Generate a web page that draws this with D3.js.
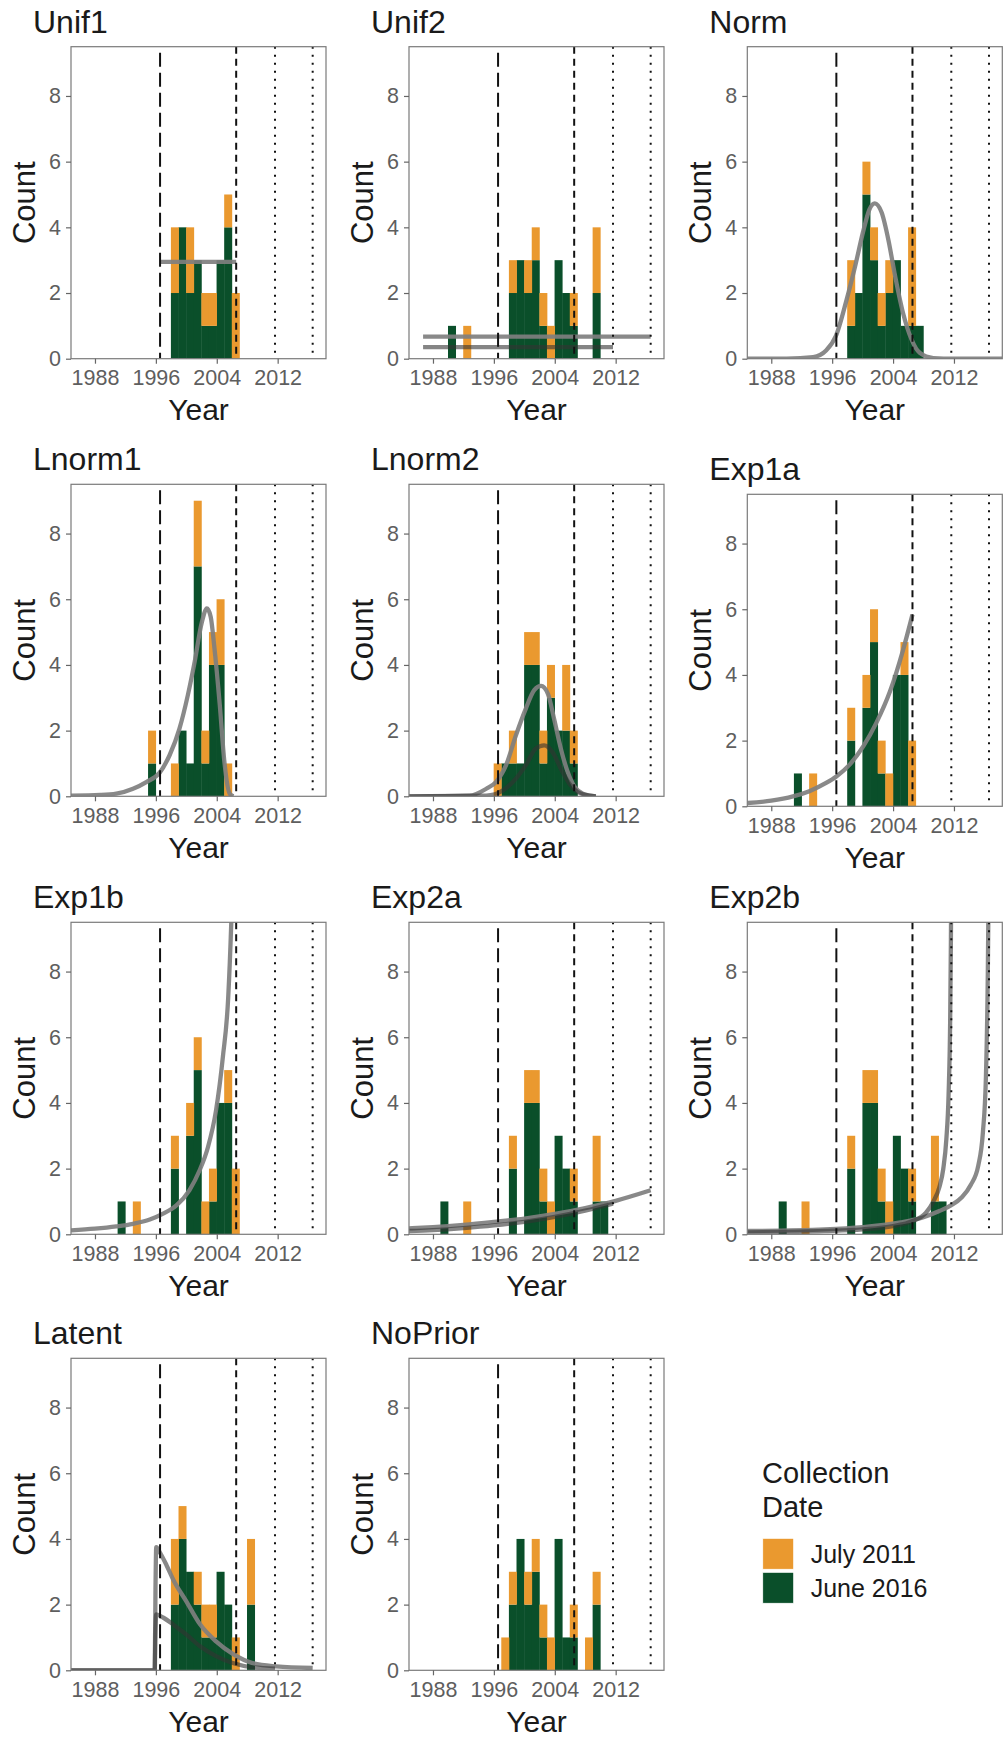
<!DOCTYPE html>
<html><head><meta charset="utf-8">
<script src="https://cdn.jsdelivr.net/npm/d3@7/dist/d3.min.js"></script>
<style>
body{margin:0;background:#fff;}
svg{display:block;font-family:"Liberation Sans",Arial,Helvetica,sans-serif;}
</style></head><body>
<svg id="chart" width="1005" height="1742"></svg>
<script>
// ---------------- DATA ----------------
const panelNames = ["Unif1","Unif2","Norm","Lnorm1","Lnorm2","Exp1a","Exp1b","Exp2a","Exp2b","Latent","NoPrior"];
const seriesNames = ["July 2011","June 2016"];
const binYears = [1989,1990,1991,1992,1993,1994,1995,1996,1997,1998,1999,2000,2001,2002,2003,2004,2005,2006,2007,2008,2009,2010];

// counts per 1-year bin (June 2016 = green, July 2011 = orange)
const unif1June   = [0,0,0,0,0,0,0,0,0, 2,4,2,3,1,1,3,4,0, 0,0,0,0];
const unif1July   = [0,0,0,0,0,0,0,0,0, 2,0,2,0,1,1,0,1,2, 0,0,0,0];
const unif2June   = [0,1,0,0,0,0,0,0,0, 2,3,2,3,1,0,3,2,1, 0,0,2,0];
const unif2July   = [0,0,0,1,0,0,0,0,0, 1,0,1,1,1,1,0,0,1, 0,0,2,0];
const normJune    = [0,0,0,0,0,0,0,0,0, 1,2,5,3,1,2,3,1,1, 1,0,0,0];
const normJuly    = [0,0,0,0,0,0,0,0,0, 2,0,1,1,1,1,0,0,3, 0,0,0,0];
const lnorm1June  = [0,0,0,0,0,0,1,0,0, 0,2,1,7,1,4,4,0,0, 0,0,0,0];
const lnorm1July  = [0,0,0,0,0,0,1,0,0, 1,0,0,2,1,1,2,1,0, 0,0,0,0];
const lnorm2June  = [0,0,0,0,0,0,0,0,1, 1,1,4,4,1,3,2,2,1, 0,0,0,0];
const lnorm2July  = [0,0,0,0,0,0,0,1,0, 1,0,1,1,1,1,0,2,1, 0,0,0,0];
const exp1aJune   = [0,0,1,0,0,0,0,0,0, 2,0,3,5,1,0,4,4,0, 0,0,0,0];
const exp1aJuly   = [0,0,0,0,1,0,0,0,0, 1,0,1,1,1,1,0,1,2, 0,0,0,0];
const exp1bJune   = [0,0,1,0,0,0,0,0,0, 2,0,3,5,0,1,4,4,0, 0,0,0,0];
const exp1bJuly   = [0,0,0,0,1,0,0,0,0, 1,0,1,1,1,1,0,1,2, 0,0,0,0];
const exp2aJune   = [1,0,0,0,0,0,0,0,0, 2,0,4,4,1,0,3,2,1, 0,0,1,1];
const exp2aJuly   = [0,0,0,1,0,0,0,0,0, 1,0,1,1,1,1,0,0,1, 0,0,2,0];
const exp2bJune   = [1,0,0,0,0,0,0,0,0, 2,0,4,4,1,0,3,2,1, 0,0,1,1];
const exp2bJuly   = [0,0,0,1,0,0,0,0,0, 1,0,1,1,1,1,0,0,1, 0,0,2,0];
const latentJune  = [0,0,0,0,0,0,0,0,0, 2,4,3,2,1,1,3,2,0, 0,2,0,0];
const latentJuly  = [0,0,0,0,0,0,0,0,0, 2,1,0,1,1,1,0,0,1, 0,2,0,0];
const noPriorJune = [0,0,0,0,0,0,0,0,0, 2,4,2,3,1,0,4,1,1, 0,0,2,0];
const noPriorJuly = [0,0,0,0,0,0,0,0,1, 1,0,1,1,1,1,0,0,1, 0,1,1,0];

// prior curves: [year, count]
const unif1Curve = [[1996.55,2.95],[2006.55,2.95]];
const unif2CurveA = [[1986.7,0.67],[2016.6,0.67]];
const unif2CurveB = [[1986.7,0.35],[2011.65,0.35]];
const normCurve = [[1984.85,0],[1990,0.005],[1993.5,0.05],[1995.2,0.25],[1996.5,0.7],[1997.9,1.8],[1999,2.8],[2000.1,3.9],[2000.9,4.55],[2001.6,4.73],[2002.5,4.45],[2003.4,3.6],[2004.2,2.6],[2005.3,1.4],[2006.4,0.6],[2007.5,0.18],[2009.3,0.02],[2012,0],[2018.35,0]];
const lnorm1Curve = [[1984.85,0.02],[1988.7,0.04],[1990.8,0.08],[1993,0.23],[1994.8,0.44],[1996.5,0.72],[1997.8,1.25],[1999.1,2.06],[2000.2,3.08],[2001.1,4.1],[2002,5.26],[2002.7,5.72],[2003.2,5.47],[2003.7,4.5],[2004.4,2.77],[2005,1.05],[2005.7,0.08],[2006.2,0]];
const lnorm2CurveA = [[1984.85,0],[1992.8,0.02],[1995,0.23],[1996.3,0.44],[1997.6,0.95],[1998.9,1.86],[2000.2,2.67],[2001.3,3.23],[2002.2,3.36],[2003.1,3.12],[2003.9,2.37],[2004.8,1.45],[2005.7,0.74],[2006.6,0.29],[2007.7,0.08],[2009.4,0]];
const lnorm2CurveB = [[1984.85,0],[1995,0.02],[1997.2,0.18],[1998.9,0.54],[2000.2,0.95],[2001.5,1.45],[2002.6,1.55],[2003.7,1.35],[2004.8,0.84],[2005.9,0.39],[2007,0.13],[2008.5,0.02],[2009.4,0]];
const exp1aCurve = [[1984.85,0.1],[1988,0.17],[1990.85,0.3],[1993,0.46],[1995.2,0.71],[1996.55,0.91],[1998.3,1.27],[2000.1,1.83],[2001.8,2.54],[2003.6,3.5],[2005.3,4.75],[2006.55,5.84]];
const exp1bCurve = [[1984.85,0.12],[1988,0.17],[1990.8,0.24],[1993,0.32],[1995.2,0.45],[1996.95,0.63],[1998.7,0.88],[2000.4,1.34],[2001.75,1.95],[2002.85,2.66],[2003.9,3.77],[2004.8,5.4],[2005.5,7.2],[2005.9,9.45],[2006.1,11]];
const exp2aCurveA = [[1984.85,0.18],[1988,0.22],[1992,0.29],[1996,0.38],[2000,0.48],[2004,0.62],[2008,0.8],[2012,1.02],[2016.6,1.34]];
const exp2aCurveB = [[1984.85,0.1],[1988,0.13],[1992,0.19],[1996,0.27],[2000,0.38],[2004,0.53],[2008,0.72],[2011.65,0.93]];
const exp2bCurveA = [[1984.85,0.1],[1995,0.15],[2000,0.22],[2005,0.36],[2008,0.52],[2010,0.7],[2011.6,0.88],[2013,1.12],[2014.2,1.5],[2015.2,2.1],[2015.8,3.1],[2016.2,4.8],[2016.45,8],[2016.57,11]];
const exp2bCurveB = [[1984.85,0.06],[1995,0.1],[2000,0.15],[2004,0.25],[2006.5,0.4],[2008.3,0.65],[2009.3,1.0],[2010.1,1.45],[2010.6,2.0],[2011.0,2.9],[2011.3,4.3],[2011.5,6.5],[2011.6,9],[2011.65,11]];
const latentCurveA = [[1984.85,0],[1995.85,0],[1995.95,2.5],[1996.05,3.75],[1996.5,3.6],[1997.4,3.2],[1998.3,2.75],[2000,2.1],[2001.8,1.4],[2003.9,0.88],[2006.1,0.5],[2008.7,0.22],[2011.8,0.12],[2016.6,0.07]];
const latentCurveB = [[1984.85,0],[1995.85,0],[1995.95,1.2],[1996.05,1.7],[1997,1.6],[1998.3,1.39],[2000,1.09],[2001.8,0.73],[2003.9,0.43],[2006.1,0.22],[2008.7,0.09],[2011.65,0.05]];

const juneByPanel = [unif1June,unif2June,normJune,lnorm1June,lnorm2June,exp1aJune,exp1bJune,exp2aJune,exp2bJune,latentJune,noPriorJune];
const julyByPanel = [unif1July,unif2July,normJuly,lnorm1July,lnorm2July,exp1aJuly,exp1bJuly,exp2aJuly,exp2bJuly,latentJuly,noPriorJuly];
const curvesByPanel = [[unif1Curve],[unif2CurveA,unif2CurveB],[normCurve],[lnorm1Curve],[lnorm2CurveA,lnorm2CurveB],[exp1aCurve],[exp1bCurve],[exp2aCurveA,exp2aCurveB],[exp2bCurveA,exp2bCurveB],[latentCurveA,latentCurveB],[]];

const longDashYears = [1996.55];
const shortDashYears = [2006.55];
const dottedYears = [2011.65, 2016.6];
const xTicks = [1988,1996,2004,2012];
const yTicks = [0,2,4,6,8];
const xDomain = [1984.85, 2018.35];
const yDomain = [0, 9.5];

// ---------------- LAYOUT / STYLE ----------------
const colJuly = "#ea992f", colJune = "#0a4f2a";
const W = 255, H = 312;
const colLeft = [71, 409, 747.3];
const rowTop = [46.7, 484.3, 922.3, 1358.3];
const panelShift = {Exp1a: 10};

const svg = d3.select("#chart");
svg.append("rect").attr("width",1005).attr("height",1742).attr("fill","#fff");

const x = d3.scaleLinear().domain(xDomain).range([0, W]);
const y = d3.scaleLinear().domain(yDomain).range([H, 0]);
const line = d3.line().x(d => x(d[0])).y(d => y(d[1])).curve(d3.curveMonotoneX);

panelNames.forEach((name, i) => {
  const col = i % 3, row = Math.floor(i / 3);
  const left = colLeft[col], top = rowTop[row] + (panelShift[name] || 0);
  const g = svg.append("g").attr("transform", `translate(${left},${top})`);
  const clipId = "clip" + i;
  g.append("clipPath").attr("id", clipId).append("rect").attr("width", W).attr("height", H);
  const plot = g.append("g").attr("clip-path", `url(#${clipId})`);

  const june = juneByPanel[i], july = julyByPanel[i];
  const bins = binYears.map((yr, k) => ({yr, g: june[k], o: july[k]})).filter(d => d.g + d.o > 0);

  plot.selectAll("rect.june").data(bins.filter(d => d.g > 0)).join("rect").attr("class","june")
    .attr("x", d => x(d.yr) - 0.2).attr("width", d => x(d.yr + 1) - x(d.yr) + 0.4)
    .attr("y", d => y(d.g)).attr("height", d => y(0) - y(d.g)).attr("fill", colJune);
  plot.selectAll("rect.july").data(bins.filter(d => d.o > 0)).join("rect").attr("class","july")
    .attr("x", d => x(d.yr) - 0.2).attr("width", d => x(d.yr + 1) - x(d.yr) + 0.4)
    .attr("y", d => y(d.g + d.o)).attr("height", d => y(d.g) - y(d.g + d.o)).attr("fill", colJuly);

  curvesByPanel[i].forEach((c, j) => {
    plot.append("path").datum(c).attr("d", line).attr("fill", "none")
      .attr("stroke", j === 0 ? "#7f7f7f" : "#333")
      .attr("stroke-opacity", j === 0 ? 0.92 : 0.6)
      .attr("stroke-width", 4.3);
  });

  const vl = (years, dash, offset) => plot.selectAll(null).data(years).join("line")
    .attr("x1", d => x(d)).attr("x2", d => x(d))
    .attr("y1", y(yDomain[1])).attr("y2", y(0))
    .attr("stroke", "#111").attr("stroke-width", 2)
    .attr("stroke-dasharray", dash).attr("stroke-dashoffset", offset);
  vl(longDashYears, "14,6", 14);
  vl(shortDashYears, "7,5", 0);
  vl(dottedYears, "2,6", 0);

  g.append("rect").attr("width", W).attr("height", H).attr("fill", "none")
    .attr("stroke", "#7a7a7a").attr("stroke-width", 1.2);

  const xa = g.append("g").attr("transform", `translate(0,${H})`)
    .call(d3.axisBottom(x).tickValues(xTicks).tickSize(5).tickPadding(6).tickFormat(d3.format("d")));
  const ya = g.append("g")
    .call(d3.axisLeft(y).tickValues(yTicks).tickSize(5).tickPadding(5).tickFormat(d3.format("d")));
  [xa, ya].forEach(a => {
    a.select(".domain").remove();
    a.selectAll(".tick line").attr("stroke", "#666").attr("stroke-width", 1.2);
    a.selectAll(".tick text").attr("fill", "#5e5e5e").attr("font-size", 21.5)
      .attr("font-family", '"Liberation Sans",Arial,sans-serif');
  });

  g.append("text").attr("x", -38).attr("y", -14).attr("font-size", 32).attr("fill", "#1a1a1a").text(name);
  g.append("text").attr("x", W / 2).attr("y", H + 61.5).attr("text-anchor", "middle")
    .attr("font-size", 30).attr("fill", "#1a1a1a").text("Year");
  g.append("text").attr("transform", `translate(-36,${H / 2}) rotate(-90)`).attr("text-anchor", "middle")
    .attr("font-size", 31).attr("fill", "#1a1a1a").text("Count");
});

// legend
const lg = svg.append("g").attr("transform", "translate(762,1483)");
lg.append("text").attr("x", 0).attr("y", 0).attr("font-size", 29).attr("fill", "#1a1a1a").text("Collection");
lg.append("text").attr("x", 0).attr("y", 34).attr("font-size", 29).attr("fill", "#1a1a1a").text("Date");
const legendColors = [colJuly, colJune];
seriesNames.forEach((s, k) => {
  lg.append("rect").attr("x", 0.7).attr("y", 55.3 + k * 34).attr("width", 31).attr("height", 31)
    .attr("fill", legendColors[k]).attr("stroke", "#fff").attr("stroke-width", 0.8);
  lg.append("text").attr("x", 48.7).attr("y", 80 + k * 34).attr("font-size", 25).attr("fill", "#1a1a1a").text(s);
});
</script>
</body></html>
